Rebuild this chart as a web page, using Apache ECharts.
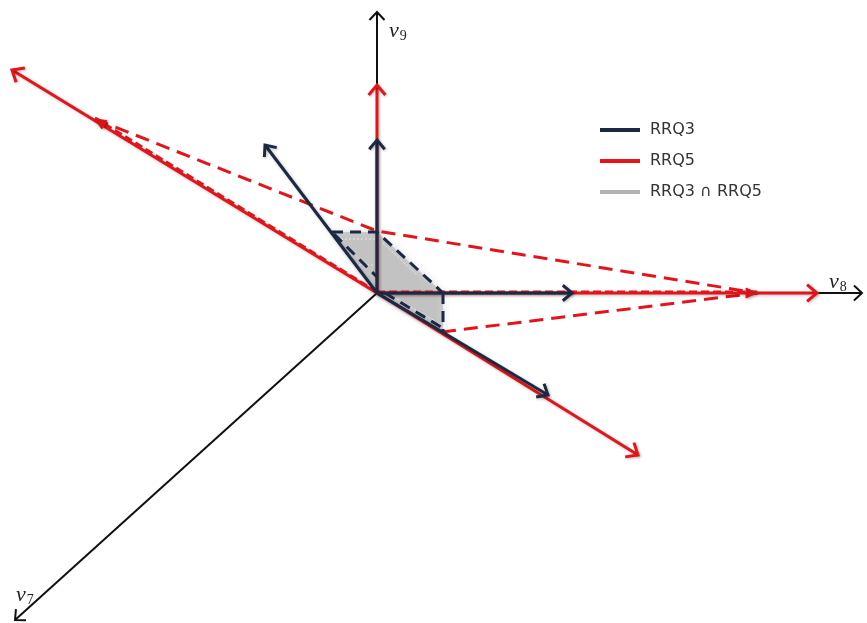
<!DOCTYPE html>
<html>
<head>
<meta charset="utf-8">
<script src="https://cdn.jsdelivr.net/npm/echarts@6/dist/echarts.min.js"></script>
<style>
  html, body { margin: 0; padding: 0; background: #fff; }
  #chart { width: 867px; height: 623px; }
</style>
</head>
<body>
<div id="chart"></div>
<script>
// Basis axes v9, v8, v7: arrow tips in diagram units, all tails at the origin
const axisSubscripts = ['9', '8', '7'];
const axisTips = [[0, 281], [485, 0], [-362, -327]];

// Criterion vectors of each ranking (tails at the origin)
const rrq3Tips = [[0, 153], [195, 0], [-112, 148], [171, -102]];
const rrq5Tips = [[0, 208], [440, 0], [-365, 223], [261, -162]];

// Extreme points of RRQ5 marked along its own vectors
const rrq5Marks = [[-282, 174], [380, 0]];

// Dashed hull edges of each ranking
const rrq5Edges = [
  [[-282, 174], [0, 62], [380, 0]],
  [[65, -39], [380, 0]]
];
const rrq3Edges = [
  [[-45, 61], [0, 61], [65, 1]],
  [[66, 0], [66, -39]],
  [[-43, 59], [0, 16]],
  [[8, 0], [64, -34]]
];

// Region shared by both rankings, with its light hatching
const overlapRegion = [[0, 0], [-45, 61], [0, 61], [66, 0], [66, -39]];
const overlapHatch = [
  [[-40, 54], [0, 54]],
  [[-22, 28], [0, 28]],
  [[6, 50], [40, 18]],
  [[20, -6], [58, -28]]
];

const seriesNames = ['RRQ3', 'RRQ5', 'RRQ3 \u2229 RRQ5'];

const NAVY = '#1c2944';
const RED = '#e5141b';
const BLACK = '#111111';
const GREY = '#b3b3b3';

const lineShadow = {
  shadowBlur: 3,
  shadowColor: 'rgba(0,0,0,0.28)',
  shadowOffsetX: 1,
  shadowOffsetY: 1
};

// Open chevron (or filled head) at point b, pointing away from a
function headPoints(a, b, len, ang) {
  const dx = b[0] - a[0], dy = b[1] - a[1];
  const n = Math.hypot(dx, dy) || 1;
  const ux = dx / n, uy = dy / n;
  const c = Math.cos(ang), s = Math.sin(ang);
  const l = [b[0] - len * (ux * c - uy * s), b[1] - len * (uy * c + ux * s)];
  const r = [b[0] - len * (ux * c + uy * s), b[1] - len * (uy * c - ux * s)];
  return [l, b, r];
}

function vectorSeries(name, tips, color, width, headLen, z) {
  return {
    type: 'custom',
    name: name,
    coordinateSystem: 'cartesian2d',
    clip: false,
    z: z,
    silent: true,
    itemStyle: { color: color },
    encode: { x: [0, 2], y: [1, 3] },
    data: tips.map(t => [0, 0, t[0], t[1]]),
    renderItem: function (params, api) {
      const a = api.coord([api.value(0), api.value(1)]);
      const b = api.coord([api.value(2), api.value(3)]);
      return {
        type: 'group',
        children: [
          {
            type: 'line',
            shape: { x1: a[0], y1: a[1], x2: b[0], y2: b[1] },
            style: Object.assign({ stroke: color, lineWidth: width }, lineShadow)
          },
          {
            type: 'polyline',
            shape: { points: headPoints(a, b, headLen, 0.7) },
            style: Object.assign({ stroke: color, fill: null, lineWidth: width, lineJoin: 'miter', lineCap: 'butt' }, lineShadow)
          }
        ]
      };
    }
  };
}

function markSeries(name, marks, color, z) {
  return {
    type: 'custom',
    name: name,
    coordinateSystem: 'cartesian2d',
    clip: false,
    z: z,
    silent: true,
    itemStyle: { color: color },
    encode: { x: [0, 2], y: [1, 3] },
    data: marks.map(m => [0, 0, m[0], m[1]]),
    renderItem: function (params, api) {
      const a = api.coord([api.value(0), api.value(1)]);
      const b = api.coord([api.value(2), api.value(3)]);
      return {
        type: 'group',
        children: [
          {
            type: 'line',
            shape: { x1: a[0], y1: a[1] - 1, x2: b[0], y2: b[1] - 1 },
            style: { stroke: color, lineWidth: 3, lineDash: [8, 4] }
          },
          {
            type: 'polygon',
            shape: { points: headPoints(a, b, 12, 0.42) },
            style: Object.assign({ fill: color, stroke: color, lineWidth: 1 }, lineShadow)
          }
        ]
      };
    }
  };
}

function edgeSeries(name, edges, color, width, dash, z) {
  return {
    type: 'custom',
    name: name,
    coordinateSystem: 'cartesian2d',
    clip: false,
    z: z,
    silent: true,
    itemStyle: { color: color },
    data: edges.map((e, i) => [e[0][0], e[0][1], i]),
    renderItem: function (params, api) {
      const pts = edges[api.value(2)].map(p => api.coord(p));
      return {
        type: 'polyline',
        shape: { points: pts },
        style: { stroke: color, fill: null, lineWidth: width, lineDash: dash, lineCap: 'butt' }
      };
    }
  };
}

const overlapSeries = {
  type: 'custom',
  name: seriesNames[2],
  coordinateSystem: 'cartesian2d',
  clip: false,
  z: 2,
  silent: true,
  itemStyle: { color: GREY },
  data: [[0, 0]],
  renderItem: function (params, api) {
    const poly = overlapRegion.map(p => api.coord(p));
    const children = [{
      type: 'polygon',
      shape: { points: poly },
      style: {
        fill: 'rgba(170,170,170,0.5)',
        shadowBlur: 8,
        shadowColor: 'rgba(150,150,150,0.7)'
      }
    }];
    overlapHatch.forEach(h => {
      const p = h.map(q => api.coord(q));
      children.push({
        type: 'polyline',
        shape: { points: p },
        style: { stroke: 'rgba(235,235,235,0.9)', fill: null, lineWidth: 1, lineDash: [2, 2] }
      });
    });
    return { type: 'group', children: children };
  }
};

// Offsets of the axis names from their arrow tips (pixels)
const axisLabelOffsets = [[12, 8], [-33, -22], [1, -36]];

const axesSeries = {
  type: 'custom',
  name: 'axes',
  coordinateSystem: 'cartesian2d',
  clip: false,
  z: 1,
  silent: true,
  itemStyle: { color: BLACK },
  encode: { x: [0, 2], y: [1, 3] },
  data: axisTips.map(t => [0, 0, t[0], t[1]]),
  renderItem: function (params, api) {
    const a = api.coord([api.value(0), api.value(1)]);
    const b = api.coord([api.value(2), api.value(3)]);
    const off = axisLabelOffsets[params.dataIndex];
    return {
      type: 'group',
      children: [
        {
          type: 'line',
          shape: { x1: a[0], y1: a[1], x2: b[0], y2: b[1] },
          style: { stroke: BLACK, lineWidth: 2 }
        },
        {
          type: 'polyline',
          shape: { points: headPoints(a, b, 11, 0.75) },
          style: { stroke: BLACK, fill: null, lineWidth: 2, lineJoin: 'miter' }
        },
        {
          type: 'text',
          x: b[0] + off[0],
          y: b[1] + off[1],
          style: {
            text: '{v|v}{s|' + axisSubscripts[params.dataIndex] + '}',
            rich: {
              v: { fontFamily: 'Liberation Serif', fontStyle: 'italic', fontSize: 22, fill: '#222' },
              s: { fontFamily: 'Liberation Serif', fontSize: 14, fill: '#222', padding: [9, 0, 0, 1] }
            }
          }
        }
      ]
    };
  }
};

const chart = echarts.init(document.getElementById('chart'), null, { renderer: 'canvas' });

chart.setOption({
  backgroundColor: '#ffffff',
  animation: false,
  grid: { left: 0, right: 0, top: 0, bottom: 0 },
  xAxis: { type: 'value', min: -377, max: 490, show: false },
  yAxis: { type: 'value', min: -330, max: 293, show: false },
  legend: {
    orient: 'vertical',
    left: 600,
    top: 120,
    padding: 0,
    itemWidth: 40,
    itemHeight: 4,
    itemGap: 11,
    icon: 'rect',
    selectedMode: false,
    textStyle: { fontFamily: 'DejaVu Sans', fontSize: 16, color: '#333', lineHeight: 20, padding: [0, 0, 0, 5] },
    data: [
      { name: seriesNames[0], itemStyle: { color: NAVY } },
      { name: seriesNames[1], itemStyle: { color: RED } },
      { name: seriesNames[2], itemStyle: { color: GREY } }
    ]
  },
  series: [
    axesSeries,
    overlapSeries,
    edgeSeries(seriesNames[1], rrq5Edges, RED, 3, [14, 8], 3),
    vectorSeries(seriesNames[1], rrq5Tips, RED, 3, 13, 4),
    markSeries(seriesNames[1], rrq5Marks, RED, 5),
    vectorSeries(seriesNames[0], rrq3Tips, NAVY, 3, 12, 6),
    edgeSeries(seriesNames[0], rrq3Edges, NAVY, 3, [11, 7], 7)
  ]
});
</script>
</body>
</html>
